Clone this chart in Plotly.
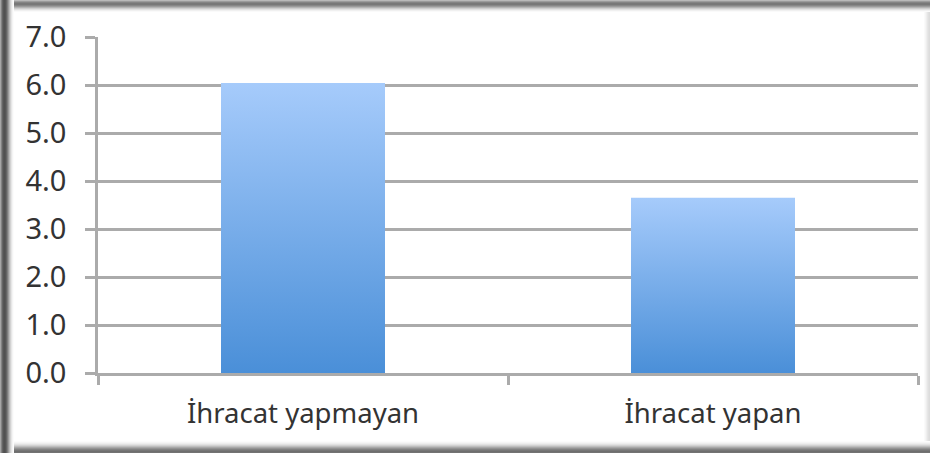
import plotly.graph_objects as go

# Data
categories = ["İhracat yapmayan", "İhracat yapan"]
values = [6.04, 3.65]
y_ticks = [0, 1, 2, 3, 4, 5, 6, 7]
y_tick_labels = ["0.0", "1.0", "2.0", "3.0", "4.0", "5.0", "6.0", "7.0"]

W, H = 930, 453
ML, MR, MT, MB = 98, 12, 37, 80
PW, PH = W - ML - MR, H - MT - MB

BAR_W = 0.4
TOP_BLUE = "#A6CBFB"
BOTTOM_BLUE = "#4A8FD8"
GRID = "#ababab"
TEXT = "#333333"
FONT = "Noto Sans"

fig = go.Figure()

# Bars drawn as filled shapes with a vertical gradient
for i, (cat, v) in enumerate(zip(categories, values)):
    x0, x1 = i - BAR_W / 2, i + BAR_W / 2
    fig.add_trace(go.Scatter(
        x=[x0, x1, x1, x0, x0],
        y=[0, 0, v, v, 0],
        mode="lines",
        line=dict(width=0),
        fill="toself",
        fillgradient=dict(
            type="vertical",
            colorscale=[[0, BOTTOM_BLUE], [1, TOP_BLUE]],
        ),
        hoverinfo="skip",
        name=cat,
        showlegend=False,
    ))

# Frame shading around the chart (pixel strips converted to paper coords)
def px_x(p):
    return (p - ML) / PW

def px_y(p):
    return (H - MB - p) / PH

def gray(v):
    return f"rgb({v},{v},{v})"

shapes = []
right = {924: 250, 925: 245, 926: 238, 927: 230, 928: 224, 929: 220}
top = {0: 185, 1: 155, 2: 132, 3: 120, 4: 120, 5: 135, 6: 155, 7: 180,
       8: 205, 9: 225, 10: 240, 11: 250}
bottom = {441: 252, 442: 246, 443: 238, 444: 226, 445: 210, 446: 190,
          447: 168, 448: 148, 449: 130, 450: 118, 451: 110, 452: 115}
left = {0: 165, 1: 130, 2: 100, 3: 85, 4: 80, 5: 85, 6: 100, 7: 125,
        8: 155, 9: 185, 10: 210, 11: 230, 12: 244, 13: 252}

for p, v in right.items():
    shapes.append(dict(type="rect", xref="paper", yref="paper",
                       x0=px_x(p), x1=px_x(p + 1), y0=px_y(H), y1=px_y(0),
                       fillcolor=gray(v), line=dict(width=0), layer="below"))
for p, v in top.items():
    shapes.append(dict(type="rect", xref="paper", yref="paper",
                       x0=px_x(0), x1=px_x(W), y0=px_y(p + 1), y1=px_y(p),
                       fillcolor=gray(v), line=dict(width=0), layer="below"))
for p, v in bottom.items():
    shapes.append(dict(type="rect", xref="paper", yref="paper",
                       x0=px_x(0), x1=px_x(W), y0=px_y(p + 1), y1=px_y(p),
                       fillcolor=gray(v), line=dict(width=0), layer="below"))
for p, v in left.items():
    shapes.append(dict(type="rect", xref="paper", yref="paper",
                       x0=px_x(p), x1=px_x(p + 1), y0=px_y(H), y1=px_y(0),
                       fillcolor=gray(v), line=dict(width=0), layer="below"))

fig.update_layout(
    width=W, height=H,
    margin=dict(l=ML, r=MR, t=MT, b=MB),
    paper_bgcolor="white",
    plot_bgcolor="white",
    shapes=shapes,
    font=dict(family=FONT, size=27, color=TEXT),
    xaxis=dict(
        range=[-0.5, 1.5],
        tickmode="array",
        tickvals=list(range(len(categories))),
        ticktext=categories,
        ticks="",
        showgrid=False,
        zeroline=False,
        showline=True,
        linecolor=GRID,
        linewidth=2.5,
        ticklabelstandoff=14,
        tickfont=dict(size=27.5),
        minor=dict(tickmode="array", tickvals=[-0.5, 0.5, 1.5],
                   ticks="outside", ticklen=9, tickwidth=2.5,
                   tickcolor=GRID, showgrid=False),
        fixedrange=True,
    ),
    yaxis=dict(
        range=[0, 7],
        tickmode="array",
        tickvals=y_ticks,
        ticktext=y_tick_labels,
        ticks="outside",
        ticklen=10,
        tickwidth=2.5,
        tickcolor=GRID,
        showgrid=True,
        gridcolor=GRID,
        gridwidth=2.5,
        zeroline=False,
        showline=True,
        linecolor=GRID,
        linewidth=2.5,
        ticklabelstandoff=13,
        tickfont=dict(size=29),
        fixedrange=True,
    ),
)

fig.write_html("out.html")
